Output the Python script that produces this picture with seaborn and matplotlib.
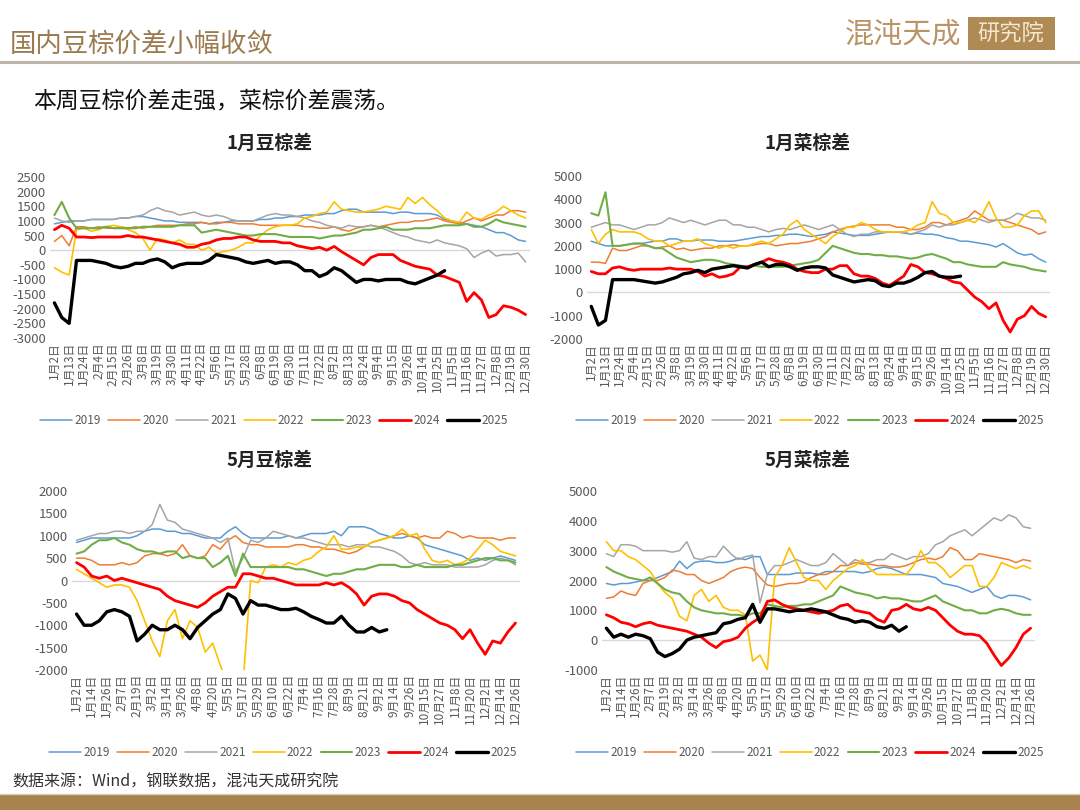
import numpy as np
import pandas as pd
import seaborn as sns
import matplotlib
matplotlib.use('Agg')
import matplotlib.pyplot as plt
from matplotlib.lines import Line2D
from matplotlib.patches import Rectangle

sns.set_theme(style='white')
plt.rcParams['font.family'] = ['Noto Sans CJK SC', 'DejaVu Sans']
plt.rcParams['axes.unicode_minus'] = False

years = ['2019', '2020', '2021', '2022', '2023', '2024', '2025']
palette = dict(zip(years, ['#5B9BD5', '#ED7D31', '#A5A5A5', '#FFC000', '#70AD47', '#FF0000', '#000000']))
sizes = dict(zip(years, [1.1, 1.1, 1.1, 1.2, 1.5, 2.0, 2.4]))

ticks_jan = ['1月2日', '1月13日', '1月24日', '2月4日', '2月15日', '2月26日', '3月8日', '3月19日',
             '3月30日', '4月11日', '4月22日', '5月6日', '5月17日', '5月28日', '6月8日', '6月19日',
             '6月30日', '7月11日', '7月22日', '8月2日', '8月13日', '8月24日', '9月4日', '9月15日',
             '9月26日', '10月14日', '10月25日', '11月5日', '11月16日', '11月27日', '12月8日',
             '12月19日', '12月30日']
ticks_may = ['1月2日', '1月14日', '1月26日', '2月7日', '2月19日', '3月2日', '3月14日', '3月26日',
             '4月8日', '4月20日', '5月5日', '5月17日', '5月29日', '6月10日', '6月22日', '7月4日',
             '7月16日', '7月28日', '8月9日', '8月21日', '9月2日', '9月14日', '9月26日', '10月15日',
             '10月27日', '11月8日', '11月20日', '12月2日', '12月14日', '12月26日']

# values sampled every half tick interval
# 1月豆棕差
jsp_2019 = [900, 950, 1000, 1000, 1000, 1050, 1050, 1050, 1050, 1100,
            1100, 1150, 1150, 1100, 1050, 1000, 1000, 950, 950, 950,
            950, 900, 950, 950, 1000, 1000, 1000, 1000, 1050, 1050,
            1100, 1100, 1150, 1150, 1200, 1200, 1200, 1250, 1250, 1350,
            1400, 1400, 1300, 1300, 1300, 1300, 1250, 1300, 1300, 1250,
            1250, 1250, 1200, 1050, 1000, 950, 900, 850, 800, 700,
            600, 600, 500, 350, 300]
jsp_2020 = [300, 500, 150, 800, 800, 750, 800, 750, 750, 800,
            750, 800, 750, 800, 850, 850, 850, 850, 900, 900,
            950, 900, 900, 950, 950, 900, 900, 900, 850, 850,
            850, 850, 850, 850, 800, 800, 750, 750, 800, 700,
            650, 750, 800, 850, 800, 850, 900, 950, 950, 1000,
            1000, 1050, 1100, 1000, 950, 900, 1000, 1100, 1000, 1100,
            1200, 1200, 1350, 1350, 1300]
jsp_2021 = [1100, 1000, 950, 1000, 1000, 1050, 1050, 1050, 1050, 1100,
            1100, 1150, 1200, 1350, 1450, 1350, 1300, 1200, 1250, 1300,
            1200, 1150, 1200, 1150, 1050, 1000, 1000, 1000, 1100, 1200,
            1250, 1200, 1200, 1150, 1100, 1000, 950, 850, 800, 750,
            850, 800, 800, 850, 800, 700, 600, 500, 450, 350,
            300, 250, 350, 250, 200, 150, 50, -250, -100, 0,
            -200, -150, -150, -100, -400]
jsp_2022 = [-600, -750, -850, 700, 750, 650, 700, 800, 850, 800,
            700, 600, 400, 0, 400, 350, 250, 350, 200, 200,
            0, 100, -100, -50, 0, 100, 250, 250, 500, 700,
            800, 850, 850, 900, 1100, 1150, 1250, 1300, 1650, 1400,
            1350, 1300, 1300, 1350, 1400, 1500, 1450, 1400, 1800, 1600,
            1800, 1550, 1350, 1100, 1000, 950, 1300, 1100, 1050, 1200,
            1300, 1500, 1350, 1200, 1100]
jsp_2023 = [1200, 1650, 1100, 750, 750, 750, 750, 800, 750, 750,
            750, 750, 800, 800, 800, 800, 800, 850, 850, 850,
            600, 650, 700, 650, 600, 550, 500, 500, 550, 550,
            550, 500, 450, 450, 450, 450, 400, 450, 500, 500,
            550, 600, 700, 700, 750, 800, 700, 700, 700, 750,
            750, 750, 800, 850, 850, 850, 900, 800, 800, 900,
            1050, 950, 900, 850, 800]
jsp_2024 = [700, 850, 750, 450, 450, 430, 450, 450, 450, 450,
            500, 450, 450, 400, 350, 300, 250, 200, 100, 100,
            200, 250, 350, 400, 400, 450, 450, 350, 300, 300,
            300, 250, 250, 150, 100, 50, 100, 0, 130, -50,
            -200, -350, -500, -250, -150, -150, -150, -350, -450, -550,
            -600, -650, -850, -900, -1000, -1100, -1750, -1450, -1700, -2300,
            -2200, -1900, -1950, -2050, -2200]
jsp_2025 = [-1800, -2300, -2500, -350, -350, -350, -400, -450, -550, -600,
            -550, -450, -450, -350, -300, -400, -600, -500, -450, -450,
            -450, -350, -150, -200, -250, -300, -400, -450, -400, -350,
            -450, -400, -400, -500, -700, -700, -900, -800, -600, -700,
            -900, -1100, -1000, -1000, -1050, -1000, -1000, -1000, -1100, -1150,
            -1050, -950, -850, -700]

# 1月菜棕差
jrp_2019 = [2200, 2100, 2000, 2000, 2000, 2050, 2100, 2100, 2150, 2200,
            2200, 2300, 2300, 2200, 2200, 2250, 2250, 2250, 2200, 2200,
            2200, 2250, 2300, 2350, 2400, 2400, 2450, 2450, 2500, 2500,
            2450, 2400, 2450, 2500, 2600, 2550, 2500, 2450, 2450, 2450,
            2500, 2550, 2600, 2600, 2550, 2500, 2550, 2500, 2500, 2450,
            2350, 2300, 2200, 2200, 2150, 2100, 2050, 1950, 2100, 1900,
            1700, 1600, 1650, 1450, 1300]
jrp_2020 = [1300, 1300, 1250, 1900, 1800, 1800, 1900, 2000, 2000, 1900,
            1950, 2000, 1850, 1900, 1800, 1850, 1900, 1900, 2000, 2000,
            2050, 2000, 2000, 2050, 2100, 2100, 2000, 2050, 2100, 2100,
            2150, 2200, 2300, 2400, 2600, 2700, 2800, 2850, 2900, 2900,
            2900, 2900, 2900, 2800, 2800, 2700, 2700, 2800, 3000, 3000,
            2900, 3000, 3100, 3200, 3500, 3300, 3100, 3100, 3100, 3000,
            2900, 2800, 2700, 2500, 2600]
jrp_2021 = [2800, 2900, 3000, 2900, 2900, 2800, 2700, 2800, 2900, 2900,
            3000, 3200, 3100, 3000, 3100, 3000, 2900, 3000, 3100, 3100,
            2900, 2900, 2800, 2800, 2700, 2600, 2700, 2750, 2700, 2800,
            2900, 2800, 2700, 2800, 2900, 2700, 2500, 2400, 2500, 2500,
            2600, 2600, 2600, 2600, 2600, 2500, 2600, 2700, 2900, 2800,
            2900, 2900, 3000, 3100, 3200, 3100, 3000, 3100, 3100, 3200,
            3400, 3300, 3200, 3200, 3100]
jrp_2022 = [2700, 2100, 2500, 2700, 2600, 2600, 2600, 2500, 2300, 2200,
            2200, 2000, 2100, 2200, 2200, 2300, 2100, 2000, 1900, 2000,
            1900, 2000, 2000, 2100, 2200, 2100, 2300, 2500, 2900, 3100,
            2700, 2500, 2300, 2100, 2400, 2600, 2800, 2800, 3000, 2900,
            2700, 2600, 2600, 2600, 2600, 2700, 2900, 3000, 3900, 3400,
            3300, 3000, 3000, 3100, 3000, 3300, 3900, 3200, 2800, 2800,
            2900, 3300, 3500, 3500, 3000]
jrp_2023 = [3400, 3300, 4300, 2000, 2000, 2050, 2100, 2100, 2000, 1900,
            1900, 1700, 1500, 1400, 1300, 1350, 1400, 1400, 1350, 1250,
            1200, 1150, 1100, 1150, 1100, 1100, 1100, 1100, 1150, 1200,
            1250, 1300, 1400, 1700, 2000, 1900, 1800, 1700, 1650, 1650,
            1600, 1600, 1550, 1550, 1500, 1450, 1500, 1600, 1650, 1550,
            1450, 1300, 1300, 1200, 1150, 1100, 1100, 1100, 1300, 1200,
            1150, 1100, 1000, 950, 900]
jrp_2024 = [900, 800, 800, 1050, 1100, 1000, 950, 1000, 1000, 1000,
            1000, 1050, 1000, 1000, 1000, 900, 700, 800, 650, 700,
            800, 1100, 1100, 1200, 1300, 1450, 1350, 1300, 1200, 1000,
            900, 850, 850, 1000, 1000, 1150, 1150, 800, 700, 700,
            600, 400, 300, 500, 700, 1200, 1100, 850, 800, 700,
            600, 450, 400, 100, -200, -400, -700, -450, -1200, -1700,
            -1150, -1000, -600, -900, -1050]
jrp_2025 = [-600, -1400, -1200, 550, 550, 550, 550, 500, 450, 400,
            450, 550, 650, 800, 850, 950, 850, 1000, 1050, 1100,
            1150, 1100, 1050, 1200, 1300, 1100, 1200, 1200, 1100, 950,
            1050, 1100, 1100, 1050, 750, 650, 550, 450, 500, 550,
            500, 300, 250, 400, 400, 500, 650, 850, 900, 700,
            650, 650, 700]

# 5月豆棕差
msp_2019 = [850, 900, 950, 950, 950, 950, 950, 950, 1000, 1100,
            1150, 1150, 1100, 1100, 1050, 1050, 1000, 950, 950, 950,
            1100, 1200, 1050, 950, 950, 950, 950, 950, 1000, 950,
            1000, 1050, 1050, 1050, 1100, 1000, 1200, 1200, 1200, 1150,
            1050, 1000, 950, 950, 1000, 950, 800, 750, 700, 650,
            600, 550, 450, 500, 450, 500, 550, 500, 450]
msp_2020 = [500, 500, 450, 350, 350, 350, 400, 350, 400, 550,
            600, 600, 550, 600, 800, 550, 500, 550, 800, 700,
            900, 1000, 850, 800, 800, 750, 750, 750, 750, 800,
            800, 750, 750, 700, 700, 650, 600, 650, 750, 850,
            900, 950, 1000, 1050, 1000, 950, 1000, 950, 950, 1100,
            1050, 950, 1000, 950, 950, 950, 900, 950, 950]
msp_2021 = [900, 950, 1000, 1050, 1050, 1100, 1100, 1050, 1100, 1100,
            1250, 1700, 1350, 1300, 1150, 1100, 1050, 1000, 950, 850,
            950, 200, 500, 900, 850, 950, 1100, 1050, 1000, 950,
            950, 900, 850, 800, 800, 800, 750, 800, 800, 750,
            750, 700, 650, 550, 400, 350, 400, 350, 350, 350,
            300, 300, 300, 300, 350, 450, 500, 450, 350]
msp_2022 = [250, 150, 50, -50, -150, -100, -100, -150, -450, -900,
            -1350, -1700, -900, -650, -1300, -900, -1050, -1600, -1400, -1900,
            -2300, -2500, -2300, 0, -50, 300, 350, 300, 400, 350,
            450, 500, 650, 750, 1000, 700, 700, 750, 750, 850,
            900, 950, 1000, 1150, 1000, 1050, 700, 450, 400, 450,
            350, 400, 500, 700, 900, 800, 650, 600, 550]
msp_2023 = [600, 650, 800, 900, 900, 950, 850, 800, 700, 650,
            650, 600, 650, 650, 500, 550, 500, 500, 300, 400,
            550, 100, 600, 300, 300, 300, 300, 300, 300, 250,
            250, 200, 150, 100, 150, 150, 200, 250, 250, 300,
            350, 350, 350, 300, 300, 350, 300, 300, 300, 300,
            350, 350, 400, 450, 500, 500, 450, 450, 400]
msp_2024 = [400, 300, 100, 50, 100, 0, 50, 0, -50, -100,
            -150, -200, -350, -450, -500, -550, -600, -500, -350, -250,
            -150, -150, 150, 150, 100, 50, 50, 0, -50, -100,
            -100, -100, -100, -50, -100, -50, -150, -300, -550, -350,
            -300, -300, -350, -450, -500, -650, -750, -850, -950, -1000,
            -1100, -1300, -1100, -1400, -1650, -1350, -1400, -1150, -950]
msp_2025 = [-750, -1000, -1000, -900, -700, -650, -700, -800, -1350, -1200,
            -1000, -1100, -1100, -1000, -1100, -1300, -1050, -900, -750, -650,
            -300, -400, -750, -450, -550, -550, -600, -650, -650, -620,
            -700, -800, -870, -950, -950, -800, -1000, -1150, -1150, -1050,
            -1150, -1100]

# 5月菜棕差
mrp_2019 = [1900, 1850, 1900, 1900, 1950, 2000, 2000, 2100, 2200, 2300,
            2650, 2400, 2600, 2650, 2650, 2600, 2600, 2650, 2750, 2700,
            2800, 2800, 2200, 2200, 2200, 2200, 2250, 2250, 2250, 2200,
            2300, 2300, 2300, 2300, 2300, 2250, 2300, 2400, 2450, 2400,
            2300, 2200, 2200, 2200, 2150, 2100, 1900, 1850, 1800, 1700,
            1600, 1700, 1800, 1500, 1400, 1500, 1500, 1450, 1350]
mrp_2020 = [1400, 1450, 1650, 1550, 1500, 1900, 2000, 2000, 2100, 2350,
            2300, 2200, 2200, 2000, 1900, 2000, 2100, 2300, 2400, 2450,
            2400, 2100, 1850, 1800, 1850, 1900, 1900, 1950, 2100, 2200,
            2200, 2300, 2500, 2500, 2600, 2550, 2550, 2500, 2500, 2450,
            2450, 2500, 2600, 2700, 2750, 2700, 2800, 3100, 3000, 2700,
            2700, 2900, 2850, 2800, 2750, 2700, 2600, 2700, 2650]
mrp_2021 = [2900, 2800, 3200, 3200, 3150, 3000, 3000, 3000, 3000, 2950,
            3000, 3300, 2750, 2700, 2800, 2800, 3150, 2900, 2700, 2800,
            2850, 1250, 2200, 2500, 2500, 2600, 2700, 2600, 2500, 2500,
            2600, 2900, 2700, 2500, 2700, 2600, 2600, 2700, 2700, 2900,
            2800, 2700, 2800, 2800, 2900, 3200, 3300, 3500, 3600, 3700,
            3500, 3700, 3900, 4100, 4000, 4200, 4100, 3800, 3750]
mrp_2022 = [3300, 3000, 3000, 2800, 2700, 2500, 2300, 1900, 1600, 1400,
            800, 650, 1500, 1700, 1300, 1500, 1100, 1000, 1000, 850,
            -700, -500, -1000, 2100, 2500, 3100, 2600, 2100, 2000, 2000,
            1700, 2000, 2200, 2400, 2500, 2700, 2400, 2200, 2200, 2200,
            2200, 2200, 2500, 3000, 2600, 2600, 2400, 2100, 2300, 2500,
            2500, 1800, 1800, 2100, 2600, 2500, 2400, 2500, 2400]
mrp_2023 = [2450, 2300, 2200, 2100, 2050, 2000, 2100, 1900, 1700, 1600,
            1550, 1300, 1100, 1000, 950, 900, 900, 850, 850, 800,
            900, 900, 1200, 1150, 1100, 1150, 1150, 1200, 1200, 1300,
            1400, 1500, 1800, 1700, 1600, 1550, 1500, 1400, 1450, 1400,
            1400, 1350, 1300, 1300, 1400, 1500, 1300, 1200, 1100, 1000,
            1000, 900, 900, 1000, 1050, 1000, 900, 850, 850]
mrp_2024 = [850, 750, 600, 550, 450, 550, 600, 500, 450, 400,
            350, 300, 200, 100, -100, -250, -50, 0, 100, 400,
            600, 750, 1300, 1350, 1200, 1100, 1050, 1000, 950, 900,
            950, 1000, 1150, 1200, 1000, 950, 900, 700, 600, 1000,
            1050, 1200, 1050, 1000, 1100, 1000, 750, 500, 300, 200,
            200, 150, -100, -500, -850, -600, -250, 200, 400]
mrp_2025 = [400, 100, 200, 100, 200, 150, 50, -400, -550, -450,
            -300, 0, 100, 150, 200, 250, 550, 600, 700, 750,
            1200, 600, 1050, 1050, 1000, 950, 1000, 1000, 1050, 1000,
            950, 850, 750, 700, 600, 650, 600, 450, 400, 500,
            300, 450]


def long_frame(series):
    rows = []
    for yr, vals in zip(years, series):
        for i, v in enumerate(vals):
            rows.append((i * 0.5, v, yr))
    return pd.DataFrame(rows, columns=['x', 'v', 'year'])


fig = plt.figure(figsize=(10.8, 8.1), dpi=100)
W, H = 1080, 810


def px_axes(left, top, right, bottom):
    return fig.add_axes([left / W, 1 - bottom / H, (right - left) / W, (bottom - top) / H])


def draw_panel(box, series, ticks, ylo, yhi, ystep, title, title_xy, legend_xy):
    ax = px_axes(*box)
    df = long_frame(series)
    ax.axhline(0, color='#D9D9D9', lw=1, zorder=0)
    sns.lineplot(data=df, x='x', y='v', hue='year', size='year', palette=palette,
                 sizes=sizes, hue_order=years, size_order=years, estimator=None,
                 sort=False, legend=False, ax=ax)
    ax.set_xlim(-0.3, len(ticks) - 0.7)
    ax.set_ylim(ylo, yhi)
    ax.set_xticks(range(len(ticks)))
    ax.set_xticklabels(ticks, rotation=90, fontsize=8.5, color='#595959')
    yt = list(range(ylo, yhi + 1, ystep))
    ax.set_yticks(yt)
    ax.set_yticklabels([str(v) for v in yt], fontsize=9.5, color='#595959')
    ax.tick_params(length=0, pad=3)
    ax.set_xlabel('')
    ax.set_ylabel('')
    for s in ax.spines.values():
        s.set_visible(False)
    fig.text(title_xy[0] / W, 1 - title_xy[1] / H, title, ha='center', va='center',
             fontsize=13.5, weight='bold', color='#222222')
    handles = [Line2D([], [], color=palette[y], lw=sizes[y]) for y in years]
    fig.legend(handles, years, loc='center', bbox_to_anchor=(legend_xy[0] / W, 1 - legend_xy[1] / H),
               ncol=7, frameon=False, fontsize=8.5, handlelength=2.7, handletextpad=0.2,
               columnspacing=0.6, labelcolor='#595959')
    return ax


draw_panel((50, 177, 530, 338), [jsp_2019, jsp_2020, jsp_2021, jsp_2022, jsp_2023, jsp_2024, jsp_2025],
           ticks_jan, -3000, 2500, 500, '1月豆棕差', (270, 143), (274, 421))
draw_panel((587, 176, 1050, 339), [jrp_2019, jrp_2020, jrp_2021, jrp_2022, jrp_2023, jrp_2024, jrp_2025],
           ticks_jan, -2000, 5000, 1000, '1月菜棕差', (808, 143), (810, 421))
draw_panel((72, 491, 520, 670), [msp_2019, msp_2020, msp_2021, msp_2022, msp_2023, msp_2024, msp_2025],
           ticks_may, -2000, 2000, 500, '5月豆棕差', (270, 460), (283, 753))
draw_panel((602, 491, 1035, 670), [mrp_2019, mrp_2020, mrp_2021, mrp_2022, mrp_2023, mrp_2024, mrp_2025],
           ticks_may, -1000, 5000, 1000, '5月菜棕差', (808, 460), (810, 753))

# header
fig.text(10 / W, 1 - 44 / H, '国内豆棕价差小幅收敛', fontsize=19, color='#9A7B4F', va='center')
fig.add_artist(Line2D([0, 1], [1 - 62 / H, 1 - 62 / H], color='#BDB6A8', lw=2.2))
fig.text(33 / W, 1 - 101 / H, '本周豆棕价差走强，菜棕价差震荡。', fontsize=16.5, color='#111111', va='center')
fig.text(845 / W, 1 - 34 / H, '混沌天成', fontsize=21, color='#B89466', va='center')
fig.add_artist(Rectangle((968 / W, 1 - 50 / H), 87 / W, 33 / H, transform=fig.transFigure,
                         facecolor='#B08A55', edgecolor='none'))
fig.text(1011 / W, 1 - 34 / H, '研究院', fontsize=16, color='#F5E8D0', ha='center', va='center')

# footer
fig.text(12 / W, 1 - 782 / H, '数据来源：Wind，钢联数据，混沌天成研究院', fontsize=11.5,
         style='italic', color='#333333', va='center')
fig.add_artist(Line2D([0, 1], [1 - 794 / H, 1 - 794 / H], color='#DCCDB0', lw=1))
fig.add_artist(Rectangle((0, 0), 1, 15 / H, transform=fig.transFigure,
                         facecolor='#A8834F', edgecolor='none'))

fig.savefig('out.png', dpi=100)
